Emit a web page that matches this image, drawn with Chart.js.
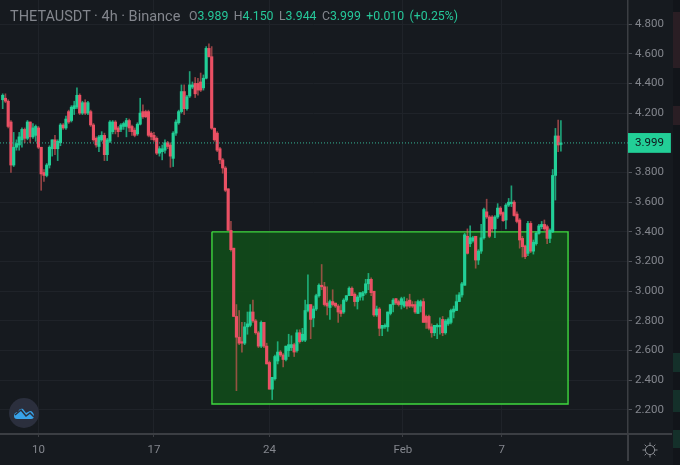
<!DOCTYPE html>
<html>
<head>
<meta charset="utf-8">
<style>
  html, body { margin: 0; padding: 0; background: #161a1f; }
  #wrap { position: relative; width: 680px; height: 465px; overflow: hidden; }
  #myChart { position: absolute; left: 0; top: 0; }
  #title { position: absolute; left: 10px; top: 8px; font: 14.5px Roboto, sans-serif; color: #83868d; white-space: nowrap; }
  #ohlc { position: absolute; left: 189px; top: 9px; font: 12.3px Roboto, sans-serif; color: #26c89a; white-space: nowrap; word-spacing: 2.4px; }
  #ohlc i { font-style: normal; color: #83868d; }
  #logo { position: absolute; left: 9px; top: 398px; }
  #gear { position: absolute; left: 642px; top: 442px; }
  #strip { position: absolute; left: 673px; top: 0; width: 7px; height: 465px; background: #12151a; }
  #strip div { position: absolute; left: 0; width: 7px; }
  #axisH { position: absolute; left: 628px; top: 433px; width: 44px; height: 2px; background: #3b3e43; }
  #axisV { position: absolute; left: 627px; top: 434px; width: 1.5px; height: 27px; background: #3b3e43; }
</style>
</head>
<body>
<div id="wrap">
  <canvas id="myChart" width="680" height="465"></canvas>
  <div id="axisH"></div>
  <div id="axisV"></div>
  <div id="strip">
    <div style="top:12px;height:56px;background:#2a1e24"></div>
    <div style="top:106px;height:19px;background:#2a1e24"></div>
    <div style="top:353px;height:19px;background:#14302a"></div>
    <div style="top:390px;height:22px;background:#14302a"></div>
    <div style="top:430px;height:18px;background:#14302a"></div>
  </div>
  <div id="title">THETAUSDT · 4h · Binance</div>
  <div id="ohlc"><i>O</i>3.989 <i>H</i>4.150 <i>L</i>3.944 <i>C</i>3.999 +0.010 (+0.25%)</div>
  <svg id="logo" width="30" height="30" viewBox="0 0 30 30">
    <circle cx="15" cy="15" r="15" fill="#2b2f3d"/>
    <path d="M5 18 C5 15 7 14 9 14 C10 11 12 10 14 11 L17 15 L21 13 C23 13 25 15 25 18 C25 20 24 21 22 21 L8 21 C6 21 5 20 5 18 Z" fill="#38a2e8"/>
    <path d="M6 17 L12 12 L17 18 L21 15 L25 19" fill="none" stroke="#2b2f3d" stroke-width="1.5"/>
  </svg>
  <svg id="gear" width="16" height="16" viewBox="0 0 16 16" fill="none" stroke="#8a8d93" stroke-width="1">
    <circle cx="8" cy="8" r="4.6"/>
    <path d="M8 0.5 V3 M8 13 V15.5 M0.5 8 H3 M13 8 H15.5 M2.7 2.7 L4.6 4.6 M11.4 11.4 L13.3 13.3 M2.7 13.3 L4.6 11.4 M11.4 4.6 L13.3 2.7"/>
  </svg>
</div>
<script src="https://cdn.jsdelivr.net/npm/chart.js@4/dist/chart.umd.min.js"></script>
<script>
// 4h candles, one entry per candle
const opens = [
  4.29,4.30,4.28,4.14,3.85,3.97,3.985,4.02,4.09,4.03,4.14,4.04,4.05,4.10,3.97,3.80,3.78,3.85,3.96,4.02,
  3.96,4.00,4.12,4.10,4.21,4.15,4.23,4.24,4.32,4.20,4.27,4.20,4.21,4.12,4.03,3.975,4.02,4.05,3.92,4.01,
  4.075,4.14,4.10,4.09,4.11,4.11,4.15,4.11,4.085,4.06,4.125,4.21,4.21,4.21,4.065,4.05,4.03,3.93,3.94,3.95,
  4.00,3.985,3.895,4.065,4.135,4.21,4.345,4.23,4.315,4.375,4.40,4.40,4.41,4.37,4.435,4.636,4.58,4.098,4.065,3.96,
  3.885,3.83,3.69,3.41,3.29,2.83,2.69,2.66,2.65,2.76,2.77,2.86,2.80,2.72,2.63,2.79,2.63,2.52,2.34,2.41,
  2.53,2.59,2.57,2.54,2.60,2.62,2.64,2.60,2.72,2.67,2.67,2.87,2.91,2.82,2.88,2.97,3.04,3.03,2.92,2.89,
  2.93,2.92,2.90,2.87,2.86,2.94,2.97,3.02,2.98,2.93,2.96,2.97,2.99,3.05,3.08,3.00,2.84,2.88,2.75,2.76,
  2.76,2.85,2.91,2.95,2.93,2.91,2.90,2.93,2.94,2.91,2.91,2.85,2.90,2.93,2.83,2.83,2.76,2.72,2.76,2.76,
  2.81,2.72,2.78,2.79,2.86,2.87,2.93,2.975,3.04,3.37,3.32,3.34,3.37,3.21,3.27,3.36,3.535,3.50,3.50,3.42,
  3.50,3.56,3.53,3.48,3.58,3.59,3.60,3.52,3.48,3.356,3.305,3.255,3.457,3.27,3.32,3.39,3.435,3.45,3.435,3.356,
  3.40,3.78,4.046,3.989
];
const highs = [
  4.33,4.33,4.29,4.15,4.07,4.02,4.07,4.10,4.10,4.15,4.14,4.13,4.12,4.11,3.97,3.82,3.86,3.98,4.02,4.05,
  4.02,4.13,4.13,4.18,4.22,4.25,4.28,4.37,4.33,4.28,4.29,4.28,4.22,4.13,4.04,4.05,4.075,4.065,4.03,4.15,
  4.15,4.15,4.11,4.13,4.14,4.165,4.16,4.12,4.10,4.135,4.30,4.255,4.22,4.22,4.075,4.07,4.04,3.975,3.985,4.02,
  4.01,4.00,4.075,4.155,4.22,4.39,4.39,4.32,4.48,4.41,4.44,4.435,4.47,4.457,4.648,4.666,4.648,4.10,4.075,3.97,
  3.895,3.84,3.69,3.47,3.29,2.91,2.87,2.79,2.79,2.86,2.91,2.94,2.81,2.73,2.80,2.79,2.65,2.53,2.42,2.57,
  2.66,2.60,2.58,2.63,2.71,2.70,2.65,2.74,2.74,2.75,2.94,3.11,2.91,2.90,2.98,3.05,3.18,3.06,3.03,2.94,
  3.01,2.92,2.91,2.91,2.95,2.97,3.03,3.03,2.99,2.97,2.99,3.00,3.08,3.12,3.09,3.00,2.90,2.89,2.77,2.78,
  2.86,2.91,2.95,2.95,2.94,2.96,2.96,2.95,2.98,2.93,2.93,2.94,2.94,2.95,2.84,2.84,2.78,2.77,2.78,2.82,
  2.83,2.81,2.82,2.88,2.90,2.975,2.99,3.06,3.39,3.42,3.44,3.37,3.37,3.28,3.45,3.56,3.62,3.51,3.51,3.51,
  3.59,3.57,3.535,3.59,3.625,3.71,3.61,3.535,3.49,3.37,3.31,3.47,3.47,3.345,3.40,3.45,3.47,3.48,3.445,3.42,
  3.82,4.097,4.153,4.15
];
const lows = [
  4.23,4.27,4.10,3.80,3.84,3.95,3.95,3.97,4.00,4.02,4.00,4.03,4.01,3.96,3.68,3.74,3.77,3.83,3.91,3.92,
  3.88,3.98,4.09,4.09,4.13,4.14,4.19,4.23,4.19,4.19,4.19,4.19,4.11,4.01,3.97,3.94,4.01,3.88,3.88,4.00,
  4.06,4.06,4.04,4.075,4.09,4.04,4.075,4.05,4.04,4.05,4.12,4.165,4.17,4.04,4.02,4.01,3.92,3.91,3.885,3.93,
  3.96,3.835,3.84,4.05,4.125,4.20,4.19,4.22,4.305,4.365,4.305,4.32,4.345,4.355,4.43,4.576,4.09,4.01,3.94,3.86,
  3.795,3.67,3.41,3.27,2.83,2.33,2.64,2.59,2.64,2.71,2.76,2.79,2.71,2.62,2.62,2.62,2.51,2.34,2.27,2.40,
  2.51,2.56,2.49,2.53,2.56,2.60,2.56,2.59,2.65,2.66,2.66,2.86,2.68,2.76,2.87,2.96,3.01,2.90,2.84,2.81,
  2.90,2.89,2.79,2.83,2.85,2.93,2.97,2.97,2.90,2.88,2.94,2.94,2.98,3.01,2.97,2.83,2.83,2.70,2.70,2.75,
  2.73,2.84,2.86,2.91,2.90,2.88,2.89,2.88,2.89,2.89,2.85,2.85,2.86,2.79,2.75,2.74,2.69,2.70,2.68,2.71,
  2.70,2.71,2.77,2.78,2.82,2.87,2.93,2.96,3.04,3.25,3.30,3.33,3.155,3.18,3.255,3.35,3.49,3.36,3.40,3.36,
  3.49,3.51,3.47,3.42,3.57,3.57,3.505,3.46,3.29,3.23,3.22,3.24,3.26,3.25,3.31,3.385,3.42,3.41,3.32,3.327,
  3.395,3.614,3.94,3.944
];
const closes = [
  4.32,4.28,4.11,3.85,3.97,3.995,4.04,4.09,4.03,4.14,4.04,4.10,4.11,3.97,3.79,3.78,3.85,3.97,4.02,3.96,
  4.01,4.12,4.10,4.16,4.14,4.24,4.25,4.32,4.20,4.27,4.20,4.27,4.12,4.02,3.985,4.04,4.05,3.92,4.02,4.14,
  4.14,4.09,4.075,4.12,4.13,4.15,4.10,4.075,4.05,4.125,4.20,4.175,4.175,4.05,4.04,4.02,3.93,3.96,3.96,4.00,
  3.975,3.91,4.065,4.14,4.21,4.345,4.23,4.31,4.39,4.39,4.33,4.355,4.355,4.435,4.636,4.58,4.098,4.02,3.95,3.885,
  3.83,3.68,3.41,3.28,2.83,2.69,2.65,2.65,2.76,2.78,2.86,2.80,2.72,2.63,2.79,2.63,2.51,2.34,2.42,2.56,
  2.59,2.57,2.54,2.63,2.64,2.64,2.59,2.72,2.66,2.71,2.87,2.91,2.81,2.88,2.97,3.04,3.03,2.91,2.90,2.93,
  2.91,2.90,2.86,2.85,2.94,2.97,3.02,2.97,2.93,2.96,2.99,2.99,3.05,3.08,2.99,2.84,2.88,2.75,2.77,2.77,
  2.86,2.91,2.94,2.92,2.91,2.95,2.93,2.90,2.90,2.90,2.86,2.93,2.93,2.79,2.79,2.75,2.72,2.77,2.77,2.77,
  2.72,2.80,2.81,2.87,2.88,2.93,2.975,3.05,3.38,3.255,3.36,3.36,3.21,3.27,3.36,3.55,3.50,3.37,3.42,3.50,
  3.56,3.52,3.475,3.58,3.60,3.60,3.51,3.47,3.345,3.30,3.233,3.457,3.27,3.33,3.39,3.44,3.45,3.42,3.356,3.41,
  3.78,4.046,3.985,3.999
];

const lastPrice = 3.999;
const yTicks = [4.8, 4.6, 4.4, 4.2, lastPrice, 3.8, 3.6, 3.4, 3.2, 3.0, 2.8, 2.6, 2.4, 2.2];
const xTicks = [13, 55, 97, 145.5, 181.5];   // candle numbers of the date labels
const xTickLabels = ["10", "17", "24", "Feb", "7"];

// the marked zone
const zoneLeft = 76.1;
const zoneRight = 205.6;
const zoneTop = 3.4;
const zoneBottom = 2.24;

const xMin = -0.98;
const xMax = 227.4;
const yMin = 2.038;
const yMax = 4.962;

const upColor = "#22cf97";
const downColor = "#ea5064";
const upWick = "rgba(34,207,151,0.75)";
const downWick = "rgba(226,92,92,0.62)";

const wicks = closes.map((c, i) => ({ x: i, y: [lows[i], highs[i]] }));
const bodies = closes.map((c, i) => ({ x: i, y: [opens[i], c] }));
const isUp = (ctx) => closes[ctx.dataIndex] >= opens[ctx.dataIndex];

let ctx = document.getElementById("myChart").getContext("2d");
Chart.defaults.font.family = "Roboto, sans-serif";
Chart.defaults.font.size = 11.5;

let priceChart = new Chart(ctx, {
  type: "bar",
  data: {
    datasets: [
      {
        type: "line",
        data: [
          { x: zoneLeft, y: zoneTop }, { x: zoneRight, y: zoneTop },
          { x: zoneRight, y: zoneBottom }, { x: zoneLeft, y: zoneBottom },
          { x: zoneLeft, y: zoneTop }
        ],
        borderColor: "#3fd83f",
        borderWidth: 1.4,
        backgroundColor: "rgba(18,72,26,0.97)",
        fill: "shape",
        pointRadius: 0,
        tension: 0,
        order: 10
      },
      {
        data: wicks,
        grouped: false,
        barThickness: 1,
        backgroundColor: (c) => (isUp(c) ? upWick : downWick),
        order: 3
      },
      {
        data: bodies,
        grouped: false,
        barThickness: 2.5,
        minBarLength: 1.5,
        backgroundColor: (c) => (isUp(c) ? upColor : downColor),
        order: 2
      },
      {
        type: "line",
        data: [{ x: xMin, y: lastPrice }, { x: xMax, y: lastPrice }],
        borderColor: "#35b596",
        borderWidth: 1,
        borderDash: [1, 2],
        pointRadius: 0,
        order: 1
      }
    ]
  },
  options: {
    responsive: false,
    animation: false,
    layout: { padding: 0 },
    plugins: { legend: { display: false }, tooltip: { enabled: false } },
    scales: {
      x: {
        type: "linear",
        offset: false,
        min: xMin,
        max: xMax,
        afterBuildTicks: (scale) => { scale.ticks = xTicks.map((v) => ({ value: v })); },
        afterFit: (scale) => { scale.height = 31; scale.paddingLeft = 0; scale.paddingRight = 0; },
        border: { color: "#3b3e43", width: 2 },
        grid: { offset: false, color: "#1f2329", tickColor: "#3b3e43", tickLength: 3 },
        ticks: {
          color: "#83868d",
          padding: 6,
          maxRotation: 0,
          autoSkip: false,
          callback: (v) => xTickLabels[xTicks.indexOf(v)]
        }
      },
      y: {
        position: "right",
        min: yMin,
        max: yMax,
        afterBuildTicks: (scale) => { scale.ticks = yTicks.map((v) => ({ value: v })); },
        afterFit: (scale) => { scale.width = 52; scale.paddingTop = 0; scale.paddingBottom = 0; },
        border: { color: "#3b3e43", width: 1.5 },
        grid: {
          color: (c) => (c.tick && c.tick.value === lastPrice ? "transparent" : "#1f2329"),
          tickColor: "#50535a",
          tickLength: 4
        },
        ticks: {
          padding: 3,
          autoSkip: false,
          color: (c) => (c.tick.value === lastPrice ? "#10151a" : "#83868d"),
          showLabelBackdrop: (c) => c.tick.value === lastPrice,
          backdropColor: upColor,
          backdropPadding: { left: 9, right: 7, top: 3, bottom: 3 },
          callback: (v) => v.toFixed(3)
        }
      }
    }
  }
});
</script>
</body>
</html>
